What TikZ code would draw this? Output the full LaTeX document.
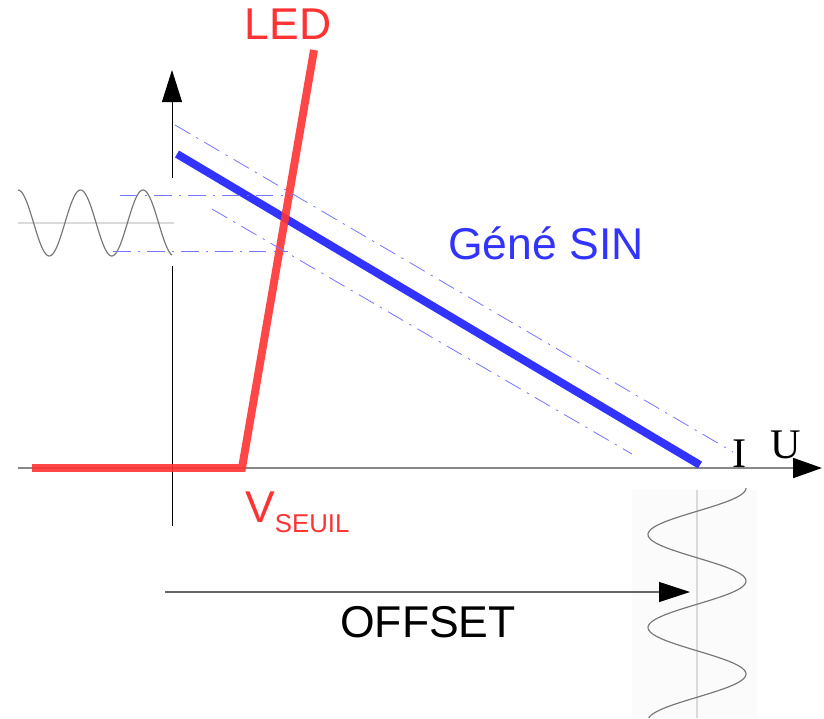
\documentclass[tikz,border=0pt]{standalone}
\usepackage{fontspec}
\setmainfont{Liberation Sans}
\newfontfamily\timesfam{Liberation Serif}
\usetikzlibrary{arrows.meta}
\definecolor{ledred}{HTML}{FF3333}
\definecolor{sinblue}{HTML}{3333FF}
\definecolor{dotblue}{HTML}{7777FF}
\definecolor{wavegray}{HTML}{777777}
\definecolor{axisgray}{HTML}{888888}
\definecolor{midgray}{HTML}{DADADA}
\definecolor{boxgray}{HTML}{FBFBFB}
\tikzset{
  bigtext/.style={font=\fontsize{38}{40}\selectfont,inner sep=0pt},
  axislabel/.style={font=\timesfam\fontsize{36}{40}\selectfont,inner sep=0pt,anchor=base},
  ddot/.style={dotblue,line width=0.7pt,dash pattern=on 15pt off 6pt on 2pt off 6pt},
}

\begin{document}
\begin{tikzpicture}[x=0.03cm,y=-0.03cm]
  \useasboundingbox (0,0) rectangle (824,718);
  \coordinate (hstart) at (18,468);
  \coordinate (htip) at (822,468);
  \coordinate (vstart) at (172,526);
  \coordinate (vtip) at (172,70);
  \coordinate (offstart) at (165,592);
  \coordinate (offtip) at (690,592);
  \coordinate (gentop) at (177,154);
  \coordinate (genend) at (700,465);
  \coordinate (hitop) at (175,125);
  \coordinate (hiend) at (733,452);
  \coordinate (lotop) at (212,209);
  \coordinate (loend) at (632,454);
  \coordinate (ledstart) at (32,468);
  \coordinate (ledknee) at (242,468);
  \coordinate (ledtop) at (314,50);
  \fill[boxgray] (632,490) rectangle (757,718);
  \draw[axisgray,line width=1.7pt,-{Triangle[length=0.87cm,width=0.6cm,color=black]}] (hstart) -- (htip);
  \draw[black,line width=0.8pt,-{Triangle[length=0.96cm,width=0.6cm]}] (vstart) -- (vtip);
  \fill[white] (17,178) rectangle (175,266);
  \draw[midgray,line width=1.5pt] (18,223) -- (174,223);
  \draw[wavegray,line width=1pt,domain=18:172,samples=120,smooth] plot (\x,{223-33*cos(5.76*(\x-18))});
  \draw[midgray,line width=1.2pt] (697,490) -- (697,718);
  \draw[wavegray,line width=1pt,domain=488:718,samples=140,smooth] plot ({697+49*cos(3.871*(\x-488))},\x);
  \draw[black!60,line width=1pt,-{Triangle[length=0.93cm,width=0.6cm,color=black]}] (offstart) -- (offtip);
  \draw[sinblue,line width=6.8pt] (gentop) -- (genend);
  \draw[ledred,line width=6.8pt,opacity=0.9] (ledstart) -- (ledknee) -- (ledtop);
  \draw[ddot] (hitop) -- (hiend);
  \draw[ddot] (lotop) -- (loend);
  \draw[ddot] (120,195) -- (290,195);
  \draw[ddot] (113,251) -- (288,251);
  \node[bigtext,ledred] (led) at (288,24) {LED};
  \node[bigtext,sinblue] (gene) at (546,243) {Géné SIN};
  \node[bigtext,ledred,anchor=base west] (vseuil) at (245,522) {V\raisebox{-9pt}{\fontsize{22}{24}\selectfont SEUIL}};
  \node[bigtext] (offset) at (428,622) {OFFSET};
  \node[axislabel] (ilab) at (740,467) {I};
  \node[axislabel] (ulab) at (786,458) {U};
\end{tikzpicture}
\end{document}
